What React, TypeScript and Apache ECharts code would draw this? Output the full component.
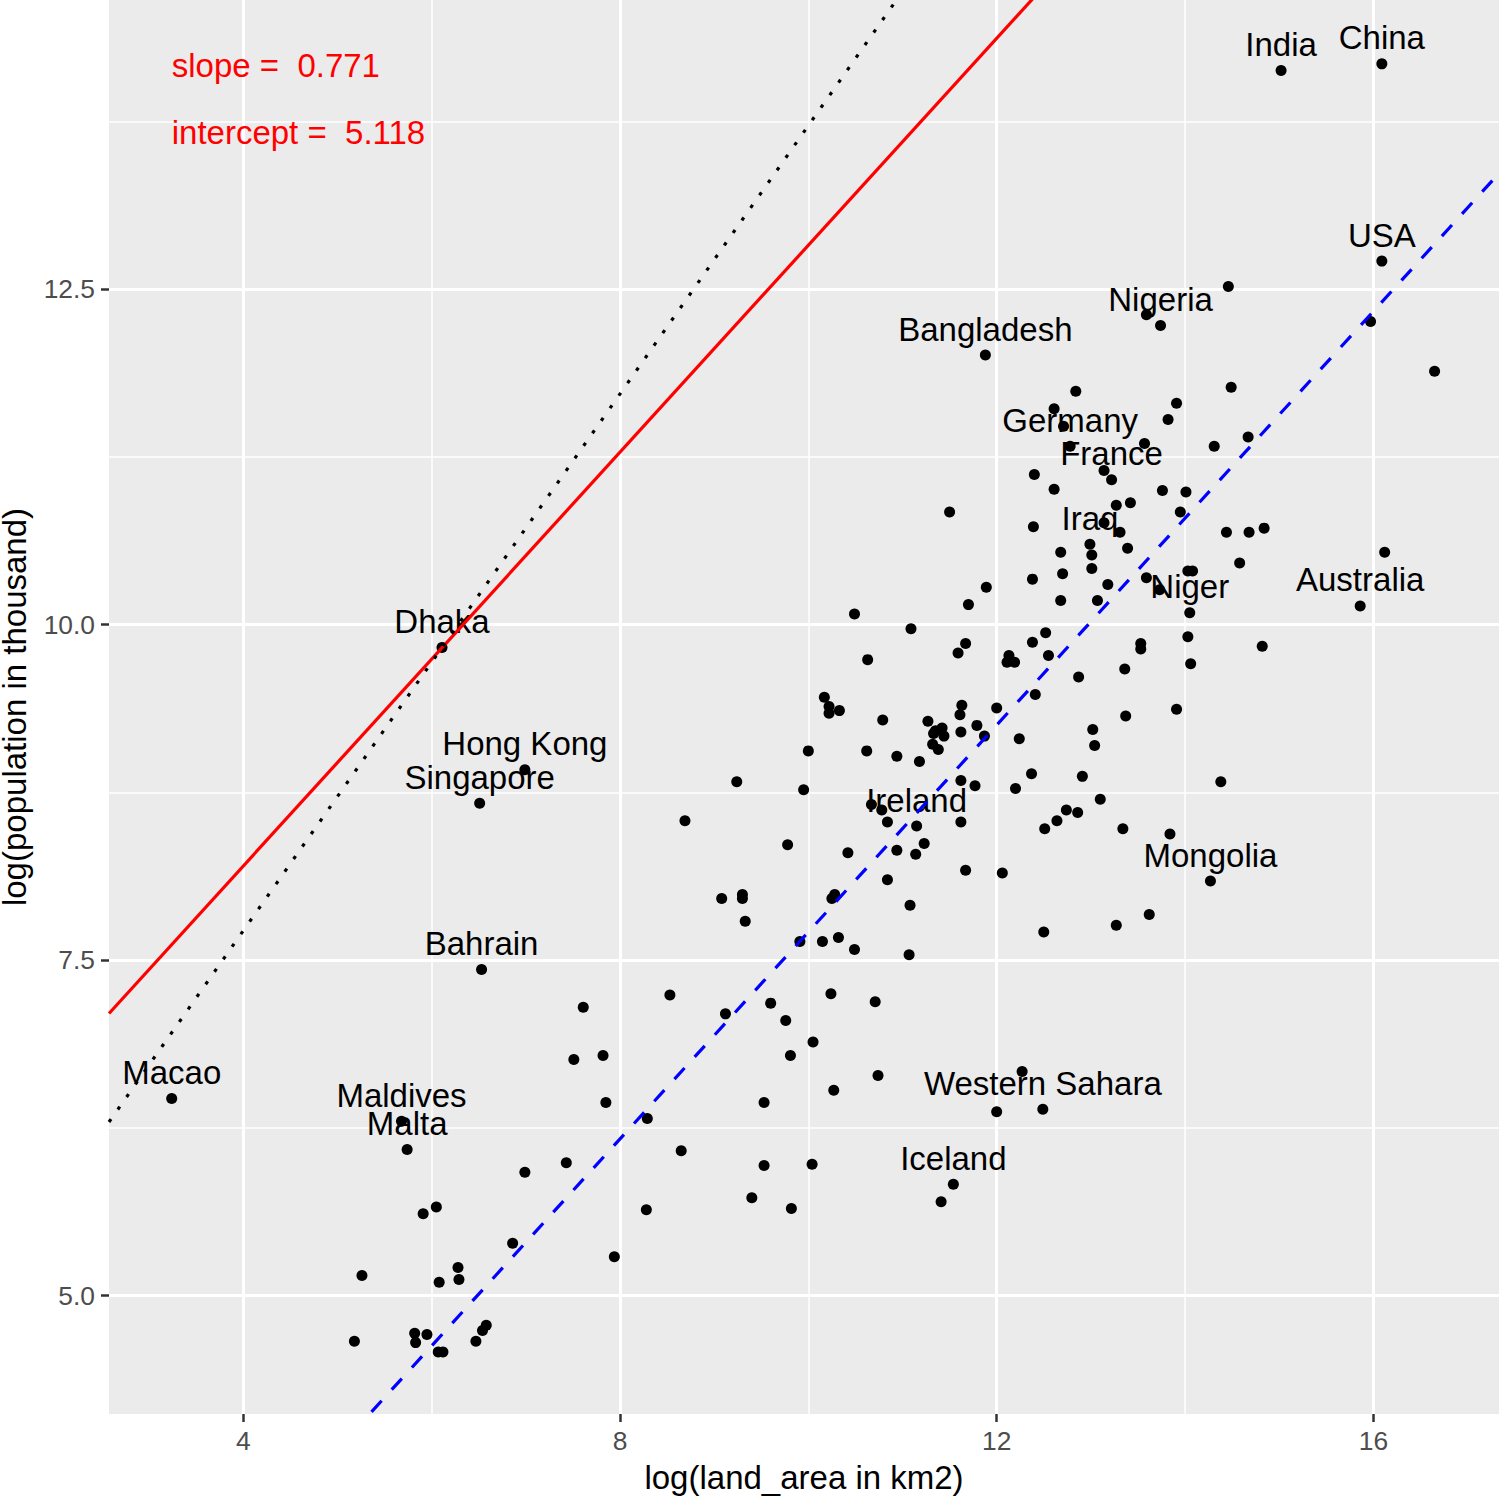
import React, { useEffect, useRef } from "react";
import * as echarts from "echarts";

// ---- axis settings ----
const xRange = [2.574, 17.334];
const yRange = [4.118, 14.656];
const xTicks = [4, 8, 12, 16];
const xMinorGrid = [6, 10, 14];
const yTicks = [5, 7.5, 10, 12.5];
const yMinorGrid = [6.25, 8.75, 11.25, 13.75];
const xTitle = "log(land_area in km2)";
const yTitle = "log(population in thousand)";

// ---- labelled countries ----
const labelNames = [
  "Macao", "Maldives", "Malta", "Western Sahara", "Iceland", "Dhaka", "Hong Kong",
  "Singapore", "Bahrain", "Ireland", "Niger", "Mongolia", "Bangladesh", "Germany",
  "France", "Iraq", "Australia", "India", "China", "USA", "Nigeria",
];
const labelLandArea = [
  3.24, 5.68, 5.74, 12.49, 11.54, 6.11, 6.99,
  6.51, 6.53, 11.15, 14.05, 14.27, 11.88, 12.78,
  13.22, 12.99, 15.86, 15.02, 16.09, 16.09, 13.74,
];
const labelPop = [
  6.47, 6.30, 6.09, 6.39, 5.83, 9.83, 8.92,
  8.67, 7.43, 8.50, 10.09, 8.09, 12.01, 11.33,
  11.08, 10.60, 10.14, 14.13, 14.18, 12.71, 12.23,
];

// ---- other countries ----
const otherLandArea = [
  6.99, 7.43, 6.05, 5.91, 6.86, 5.26, 6.28, 6.29, 6.08, 5.18, 5.82, 5.95, 5.83, 6.07, 6.12, 6.47, 6.54, 6.58,
  7.61, 8.53, 9.12, 9.60, 9.76, 10.24, 10.71, 10.05, 9.81, 7.51, 7.82, 10.74, 10.27, 7.85, 9.53, 8.29, 8.65,
  9.53, 10.04, 9.40, 9.82, 8.28, 7.94, 12.27, 12.00, 11.41, 8.69,
  11.89, 11.70, 10.49, 11.09, 11.67, 11.59, 10.63, 10.17, 10.22, 10.33, 10.22, 11.63, 11.61, 10.79, 11.27,
  11.42, 11.35, 11.33, 11.44, 11.62, 11.79, 11.87, 11.32, 11.38, 10.00, 10.62, 10.94, 11.18, 11.62, 11.77,
  9.24, 9.95, 10.67, 10.78, 10.84, 11.62, 9.78, 10.42, 10.94, 11.14, 11.23, 11.67, 10.84, 9.08, 9.30, 9.30,
  9.33, 10.28, 10.25, 11.08, 9.91, 10.15, 10.32, 10.49, 11.07,
  12.38, 12.68, 13.07, 13.18, 13.73, 13.59, 12.52, 12.38, 14.03, 13.53, 13.53, 14.82, 12.13, 12.11, 12.19,
  12.55, 13.36, 14.06, 12.87, 12.41, 12.00, 13.91, 13.37, 13.02, 13.04, 12.24, 12.37, 12.91, 14.38, 12.20,
  13.10, 12.74, 12.86, 12.64, 12.51, 13.34, 13.84, 12.06, 13.62, 13.27, 12.50,
  12.84, 12.61, 12.71, 13.91, 13.82, 14.49, 14.67, 14.31, 13.57, 13.14, 12.40, 12.61, 11.50, 13.76, 14.01,
  13.27, 13.42, 13.95, 12.39, 13.14, 13.31, 12.68, 13.01, 13.39, 14.44, 14.68, 14.84, 14.58, 13.01, 12.70,
  14.03, 14.08, 16.65, 16.12, 14.46, 13.59, 15.97,
];
const otherPop = [
  5.92, 5.99, 5.66, 5.61, 5.39, 5.15, 5.21, 5.12, 5.10, 4.66, 4.72, 4.71, 4.65, 4.58, 4.58, 4.66, 4.74, 4.78,
  7.15, 7.24, 7.10, 7.18, 7.05, 7.25, 7.19, 6.89, 6.79, 6.76, 6.79, 6.64, 6.53, 6.44, 6.44, 6.32, 6.08,
  5.97, 5.98, 5.73, 5.65, 5.64, 5.29, 6.67, 6.37, 5.70, 8.54,
  10.28, 10.15, 10.08, 9.97, 9.86, 9.79, 9.74, 9.46, 9.39, 9.36, 9.34, 9.40, 9.33, 9.29, 9.28,
  9.23, 9.21, 9.19, 9.17, 9.20, 9.25, 9.17, 9.11, 9.07, 9.06, 9.06, 9.02, 8.98, 8.84, 8.80,
  8.83, 8.77, 8.66, 8.62, 8.53, 8.53, 8.36, 8.30, 8.32, 8.29, 8.37, 8.17, 8.10, 7.96, 7.99, 7.96,
  7.79, 7.99, 7.96, 7.91, 7.64, 7.64, 7.67, 7.58, 7.54,
  10.34, 10.18, 10.18, 10.30, 10.26, 10.35, 9.94, 9.87, 9.91, 9.86, 9.82, 9.84, 9.77, 9.72, 9.72,
  9.77, 9.67, 9.71, 9.61, 9.48, 9.38, 9.37, 9.32, 9.22, 9.10, 9.15, 8.89, 8.87, 8.83, 8.78,
  8.70, 8.62, 8.60, 8.54, 8.48, 8.48, 8.44, 8.15, 7.84, 7.76, 7.71,
  11.74, 11.61, 11.48, 11.65, 11.53, 11.77, 11.40, 11.33, 11.35, 11.15, 11.12, 11.01, 10.84, 11.00, 10.99,
  10.89, 10.91, 10.84, 10.73, 10.76, 10.69, 10.54, 10.52, 10.57, 10.69, 10.69, 10.72, 10.46, 10.42, 10.38,
  10.40, 10.40, 11.89, 10.54, 12.52, 12.31, 12.26,
];

// ---- reference lines ----
const lineNames = ["dhakaSlope", "identity", "fit"];
const lineSlopes = [0.771, 1.0, 0.771];
const lineIntercepts = [5.118, 3.72, 0.0];
const lineColors = ["#FF0000", "#000000", "#0000FF"];

// ---- annotations ----
const annotationTexts = ["slope =  0.771", "intercept =  5.118"];
const annotationX = [3.24, 3.24];
const annotationY = [14.165, 13.665];

const FONT = "'Liberation Sans', Arial, Helvetica, sans-serif";

export default function App() {
  const ref = useRef<HTMLDivElement>(null);

  useEffect(() => {
    if (!ref.current) return;
    const chart = echarts.init(ref.current, undefined, { renderer: "svg" });

    const gridLines = [
      ...xTicks.map((v) => ({ xAxis: v, lineStyle: { width: 3 } })),
      ...xMinorGrid.map((v) => ({ xAxis: v, lineStyle: { width: 1.5 } })),
      ...yTicks.map((v) => ({ yAxis: v, lineStyle: { width: 3 } })),
      ...yMinorGrid.map((v) => ({ yAxis: v, lineStyle: { width: 1.5 } })),
    ];

    const lineSeries = lineNames.map((name, i) => {
      const style: any = { color: lineColors[i], width: 3.2, opacity: 1 };
      if (name === "identity") {
        style.type = [3.5, 11.8];
        style.cap = "butt";
      } else if (name === "fit") {
        style.type = [15, 15];
      } else {
        style.type = "solid";
      }
      return {
        type: "line",
        name,
        data: [
          [xRange[0], lineIntercepts[i] + lineSlopes[i] * xRange[0]],
          [xRange[1], lineIntercepts[i] + lineSlopes[i] * xRange[1]],
        ],
        symbol: "none",
        lineStyle: style,
        clip: true,
        silent: true,
        z: 5,
      };
    });

    const option: any = {
      animation: false,
      backgroundColor: "#FFFFFF",
      grid: {
        left: 109,
        right: 1,
        top: 0,
        bottom: 84,
        show: true,
        backgroundColor: "#EBEBEB",
        borderWidth: 0,
        containLabel: false,
        outerBoundsMode: "none",
      },
      xAxis: {
        type: "value",
        min: xRange[0],
        max: xRange[1],
        name: xTitle,
        nameLocation: "middle",
        nameGap: 47,
        nameTextStyle: { fontSize: 33, color: "#000000", fontFamily: FONT },
        axisLine: { show: false },
        splitLine: { show: false },
        axisTick: {
          show: true,
          customValues: xTicks,
          length: 8,
          lineStyle: { color: "#333333", width: 2.5 },
        },
        axisLabel: {
          customValues: xTicks,
          margin: 14,
          fontSize: 26.4,
          color: "#4D4D4D",
          fontFamily: FONT,
          formatter: (v: number) => String(v),
        },
      },
      yAxis: {
        type: "value",
        min: yRange[0],
        max: yRange[1],
        name: yTitle,
        nameLocation: "middle",
        nameGap: 78,
        nameTextStyle: { fontSize: 33, color: "#000000", fontFamily: FONT },
        axisLine: { show: false },
        splitLine: { show: false },
        axisTick: {
          show: true,
          customValues: yTicks,
          length: 8,
          lineStyle: { color: "#333333", width: 2.5 },
        },
        axisLabel: {
          customValues: yTicks,
          margin: 14,
          fontSize: 26.4,
          color: "#4D4D4D",
          fontFamily: FONT,
          formatter: (v: number) => v.toFixed(1),
        },
      },
      series: [
        {
          type: "line",
          name: "grid",
          data: [],
          silent: true,
          z: 1,
          markLine: {
            z: 1,
            silent: true,
            symbol: ["none", "none"],
            label: { show: false },
            lineStyle: { color: "#FFFFFF", type: "solid", opacity: 1 },
            animation: false,
            data: gridLines,
          },
        },
        {
          type: "scatter",
          name: "others",
          data: otherLandArea.map((x, i) => [x, otherPop[i]]),
          symbolSize: 11,
          itemStyle: { color: "#000000", opacity: 1 },
          silent: true,
          z: 3,
        },
        {
          type: "scatter",
          name: "labelled",
          data: labelNames.map((n, i) => ({ name: n, value: [labelLandArea[i], labelPop[i]] })),
          symbolSize: 11,
          itemStyle: { color: "#000000", opacity: 1 },
          silent: true,
          z: 3,
          label: {
            show: true,
            position: "inside",
            offset: [0, -26],
            formatter: "{b}",
            fontSize: 33,
            color: "#000000",
            opacity: 1,
            fontFamily: FONT,
            textBorderWidth: 0,
          },
        },
        ...lineSeries,
        {
          type: "scatter",
          name: "annotations",
          data: annotationTexts.map((t, i) => ({ name: t, value: [annotationX[i], annotationY[i]] })),
          symbolSize: 1,
          itemStyle: { color: "rgba(0,0,0,0)", opacity: 1 },
          silent: true,
          z: 6,
          label: {
            show: true,
            position: "inside",
            align: "left",
            verticalAlign: "middle",
            formatter: "{b}",
            fontSize: 33,
            color: "#FF0000",
            opacity: 1,
            fontFamily: FONT,
            textBorderWidth: 0,
          },
        },
      ],
    };

    chart.setOption(option);
    return () => chart.dispose();
  }, []);

  return (
    <div
      ref={ref}
      style={{ position: "absolute", left: 0, top: 0, width: 1500, height: 1498 }}
    />
  );
}
